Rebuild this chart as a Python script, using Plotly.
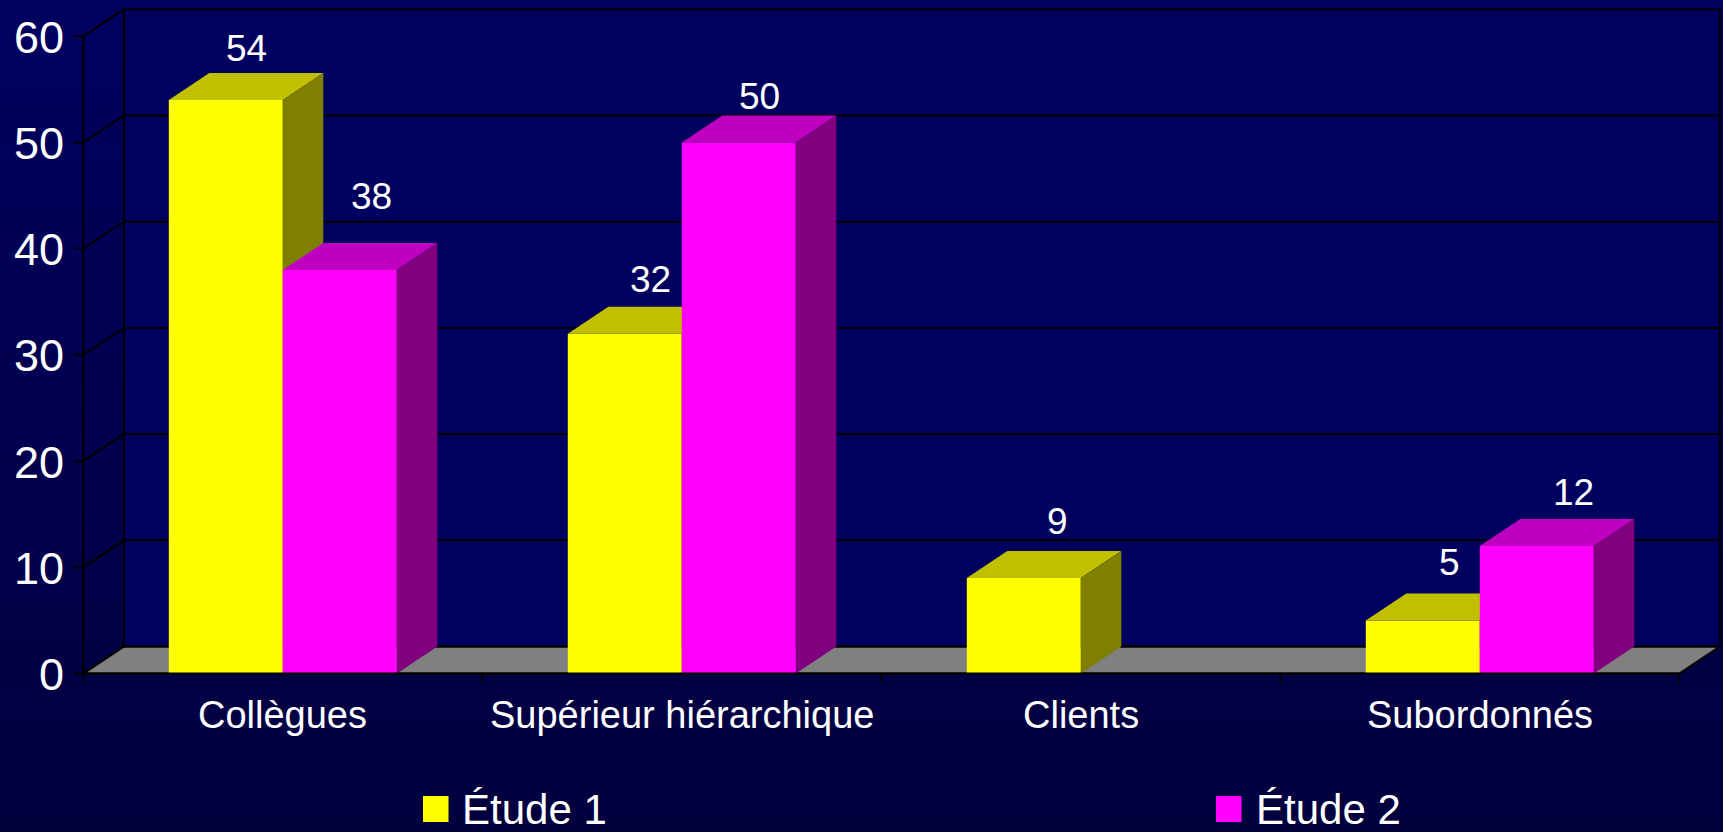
import plotly.graph_objects as go

# ---------------- data ----------------
categories = ["Collègues", "Supérieur hiérarchique", "Clients", "Subordonnés"]
etude1 = [54, 32, 9, 5]
etude2 = [38, 50, None, 12]
series_names = ["Étude 1", "Étude 2"]
y_ticks = [0, 10, 20, 30, 40, 50, 60]

# ---------------- styles / geometry ----------------
W, H = 1723, 832
PX_X0 = 83.3        # pixel x of front-left corner of the floor
CAT_PX = 399.0      # pixel width of one category
PX_Y0 = 673.5       # pixel y of value 0 on the front axis
UNIT_PX = 10.62     # pixels per value unit
DEPTH_X_PX, DEPTH_Y_PX = 40.5, 27.0
DX = DEPTH_X_PX / CAT_PX
DY = DEPTH_Y_PX / UNIT_PX
BAR_W = 1 / 3.5               # gap width 150%
BAR_OFF = 0.75 * BAR_W
FONT = "Arial, 'Liberation Sans', sans-serif"

face_colors = [
    {"front": "#FFFF00", "top": "#C0C000", "side": "#808000"},
    {"front": "#FF00FF", "top": "#C000C0", "side": "#800080"},
]
# per-label pixel nudges (x shift, distance above the bar's back-top edge)
label_nudge = [
    [(0, 25), (5, 27), (13, 29), (6, 31)],
    [(11, 46), (0, 19), (0, 27), (16, 27)],
]

n_cat = len(categories)
ymax = y_ticks[-1]

fig = go.Figure()

# ---------------- background gradient ----------------
shapes = []
N = 83
top_c = (0, 0, 96)
bot_c = (3, 0, 62)
for k in range(N):
    t = k / (N - 1)
    c = tuple(round(top_c[j] + (bot_c[j] - top_c[j]) * t) for j in range(3))
    shapes.append(dict(type="rect", xref="paper", yref="paper",
                       x0=0, x1=1, y0=1 - (k + 1) / N - 0.002, y1=1 - k / N,
                       fillcolor="rgb(%d,%d,%d)" % c, line=dict(width=0), layer="below"))

# ---------------- back wall ----------------
fig.add_trace(go.Scatter(
    x=[DX, n_cat + DX, n_cat + DX, DX, DX],
    y=[DY, DY, ymax + DY, ymax + DY, DY],
    fill="toself", fillcolor="#00005E", mode="lines", line=dict(width=0),
    hoverinfo="skip", showlegend=False))

# ---------------- floor ----------------
fig.add_trace(go.Scatter(
    x=[0, n_cat, n_cat + DX, DX, 0],
    y=[0, 0, DY, DY, 0],
    fill="toself", fillcolor="#808080", mode="lines",
    line=dict(color="black", width=2),
    hoverinfo="skip", showlegend=False))

# ---------------- grid lines & wall edges ----------------
gx, gy = [], []
for v in y_ticks:
    gx += [0, DX, n_cat + DX, None]
    gy += [v, v + DY, v + DY, None]
# back-left and back-right wall edges
gx += [DX, DX, None, n_cat + DX, n_cat + DX, None]
gy += [DY, ymax + DY, None, DY, ymax + DY, None]
# front vertical axis
gx += [0, 0, None]
gy += [0, ymax, None]
fig.add_trace(go.Scatter(x=gx, y=gy, mode="lines", line=dict(color="black", width=2),
                         hoverinfo="skip", showlegend=False))

# ---------------- 3D bars ----------------
series = [etude1, etude2]
for s, vals in enumerate(series):
    polys = {"front": ([], []), "top": ([], []), "side": ([], [])}
    for i, v in enumerate(vals):
        if v is None:
            continue
        x0 = i + BAR_OFF + s * BAR_W
        x1 = x0 + BAR_W
        fx, fy = polys["front"]
        fx += [x0, x1, x1, x0, x0, None]
        fy += [0, 0, v, v, 0, None]
        tx, ty = polys["top"]
        tx += [x0, x1, x1 + DX, x0 + DX, x0, None]
        ty += [v, v, v + DY, v + DY, v, None]
        sx, sy = polys["side"]
        sx += [x1, x1 + DX, x1 + DX, x1, x1, None]
        sy += [0, DY, v + DY, v, 0, None]
    for face in ["front", "top", "side"]:
        px, py = polys[face]
        fig.add_trace(go.Scatter(
            x=px, y=py, fill="toself", fillcolor=face_colors[s][face],
            mode="lines", line=dict(width=0), name=series_names[s],
            legendgroup=series_names[s], showlegend=False, hoverinfo="skip"))

# ---------------- front x axis & ticks ----------------
ax, ay = [0, n_cat, None], [0, 0, None]
tick_len = 9 / UNIT_PX
for i in range(n_cat + 1):
    ax += [i, i, None]
    ay += [0, -tick_len, None]
ytick_len = 9.5 / CAT_PX
for v in y_ticks:
    ax += [-ytick_len, 0, None]
    ay += [v, v, None]
fig.add_trace(go.Scatter(x=ax, y=ay, mode="lines", line=dict(color="black", width=2),
                         hoverinfo="skip", showlegend=False))

annotations = []
# y tick labels
for v in y_ticks:
    annotations.append(dict(x=0, y=v, xref="x", yref="y", text=str(v), showarrow=False,
                            xanchor="right", yanchor="middle", xshift=-17, yshift=-1,
                            font=dict(family=FONT, size=45, color="white")))
# category labels
for i, c in enumerate(categories):
    annotations.append(dict(x=i + 0.5, y=0, xref="x", yref="y", text=c, showarrow=False,
                            xanchor="center", yanchor="middle", yshift=-41,
                            font=dict(family=FONT, size=38, color="white")))
# data labels
for s, vals in enumerate(series):
    for i, v in enumerate(vals):
        if v is None:
            continue
        x0 = i + BAR_OFF + s * BAR_W
        nx, ny = label_nudge[s][i]
        annotations.append(dict(x=x0 + BAR_W / 2 + DX / 2, y=v + DY, xref="x", yref="y",
                                text=str(v), showarrow=False, xanchor="center",
                                yanchor="middle", xshift=nx, yshift=ny,
                                font=dict(family=FONT, size=37, color="white")))

# ---------------- legend (manual) ----------------
legend_pos = [(423, 460), (1216, 1254)]
for s, (sq_x, tx) in enumerate(legend_pos):
    shapes.append(dict(type="rect", xref="paper", yref="paper",
                       x0=sq_x / W, x1=(sq_x + 25.5) / W,
                       y0=1 - 822 / H, y1=1 - 796 / H,
                       fillcolor=face_colors[s]["front"], line=dict(width=0), layer="above"))
    annotations.append(dict(x=tx / W, y=1 - 809 / H, xref="paper", yref="paper",
                            text=series_names[s], showarrow=False, xanchor="left",
                            yanchor="middle",
                            font=dict(family=FONT, size=42, color="white")))

fig.update_layout(
    width=W, height=H,
    margin=dict(l=0, r=0, t=0, b=0),
    paper_bgcolor="rgb(0,0,80)",
    plot_bgcolor="rgba(0,0,0,0)",
    showlegend=False,
    shapes=shapes,
    annotations=annotations,
    xaxis=dict(visible=False, range=[-PX_X0 / CAT_PX, (W - PX_X0) / CAT_PX], fixedrange=True),
    yaxis=dict(visible=False, range=[(PX_Y0 - H) / UNIT_PX, PX_Y0 / UNIT_PX], fixedrange=True),
)

fig.write_html(
    "out.html",
    config={"displayModeBar": False},
    post_script="document.body.style.margin='0';document.body.style.overflow='hidden';",
)
